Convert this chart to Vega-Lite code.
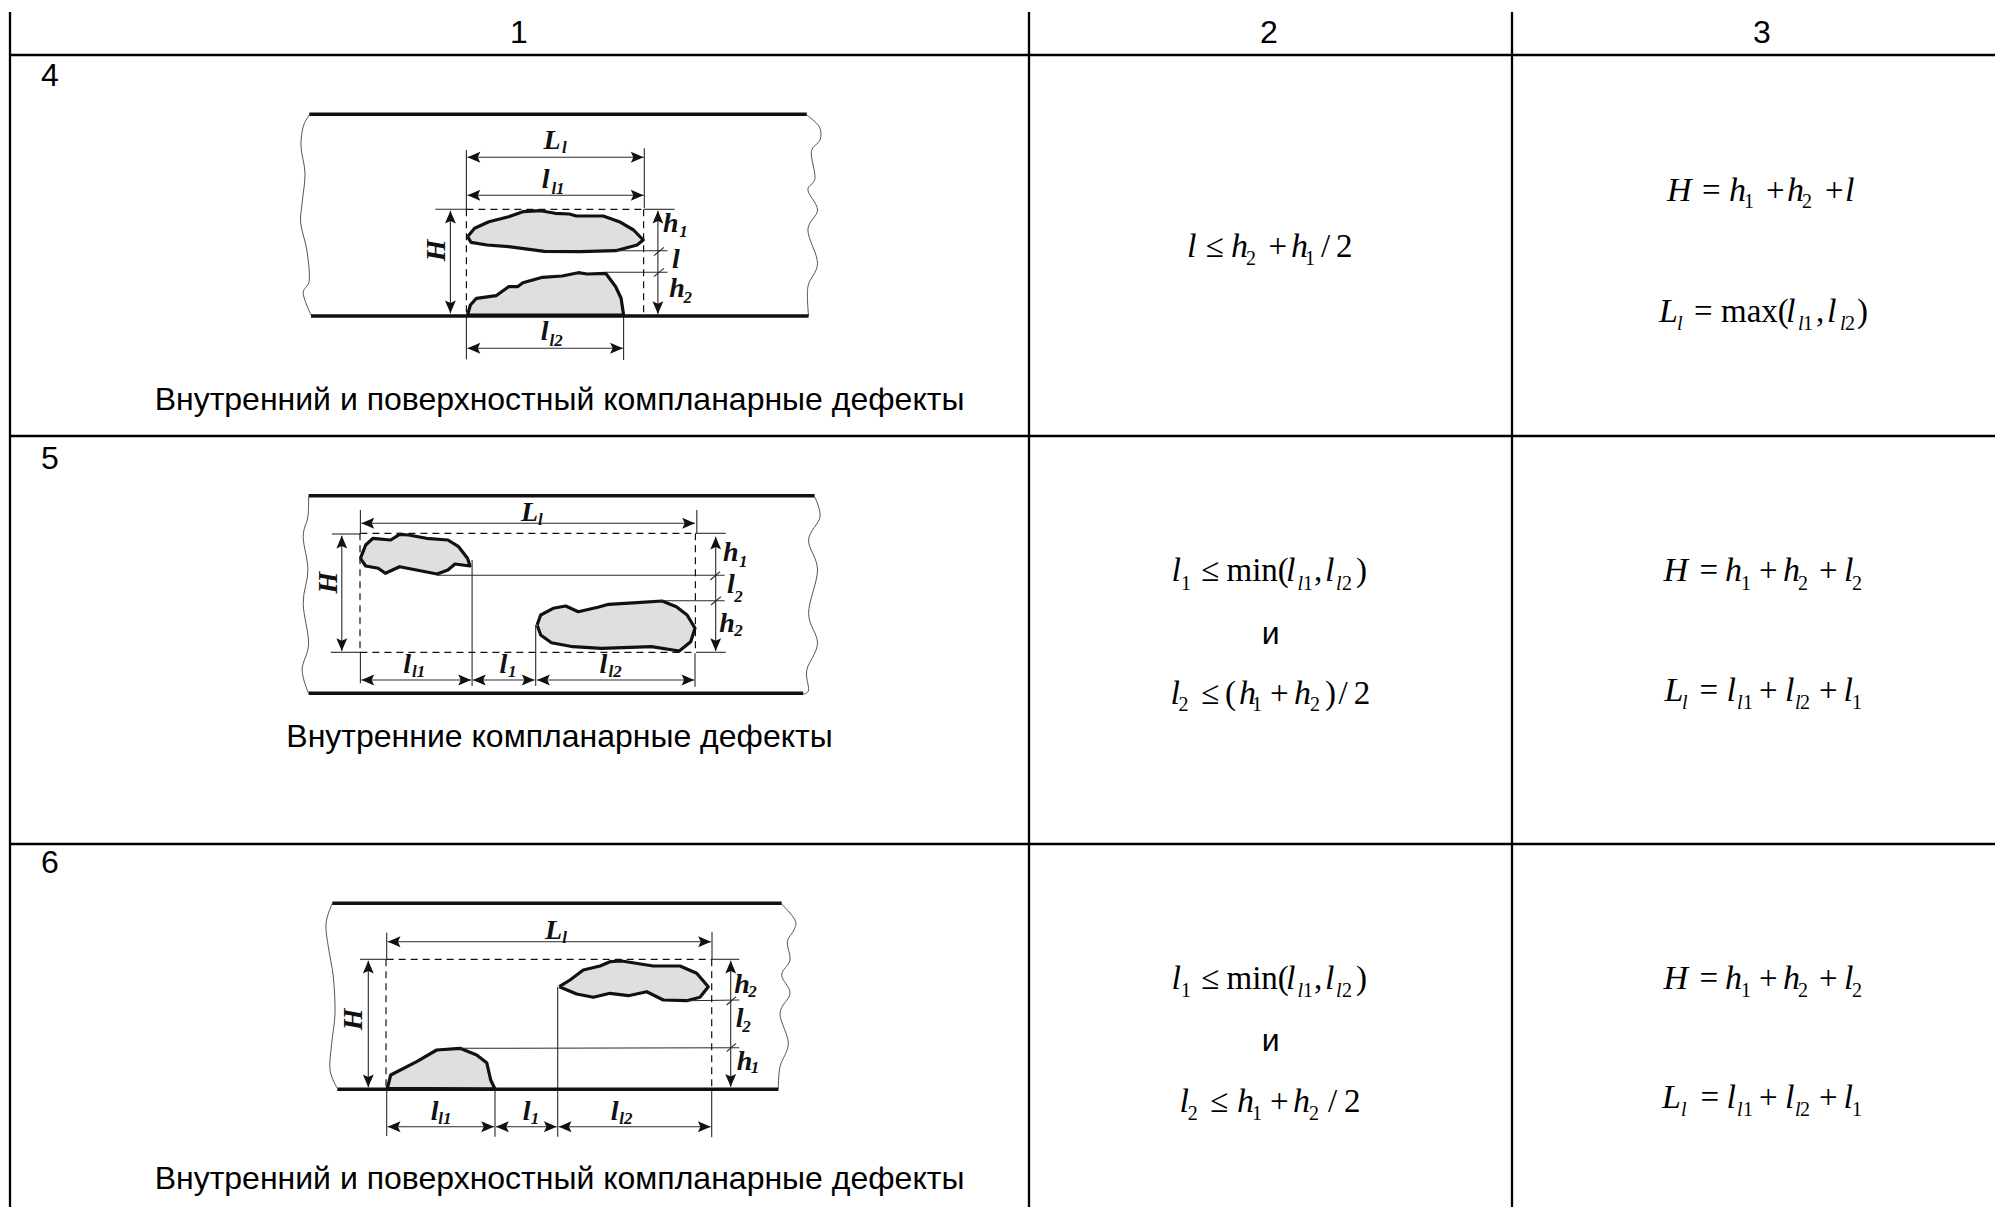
{
"$schema":"https://vega.github.io/schema/vega-lite/v6.json",
"width":1995,"height":1207,"padding":0,
"autosize":{"type":"none"},
"background":"white",
"config":{"view":{"stroke":null}},
"datasets":{
"grid":[
{"s":"h0","x":10,"y":55},{"s":"h0","x":1995,"y":55},
{"s":"h1","x":10,"y":436},{"s":"h1","x":1995,"y":436},
{"s":"h2","x":10,"y":844},{"s":"h2","x":1995,"y":844},
{"s":"v0","x":10,"y":12},{"s":"v0","x":10,"y":1207},
{"s":"v1","x":1029,"y":12},{"s":"v1","x":1029,"y":1207},
{"s":"v2","x":1512,"y":12},{"s":"v2","x":1512,"y":1207}
],
"walls":[
{"s":"a","x":309.3,"y":114.3},{"s":"a","x":806.8,"y":114.3},
{"s":"b","x":311,"y":316},{"s":"b","x":808.6,"y":316},
{"s":"c","x":308.6,"y":495.7},{"s":"c","x":814.6,"y":495.7},
{"s":"d","x":308.6,"y":693.3},{"s":"d","x":803.2,"y":693.3},
{"s":"e","x":332.3,"y":903.3},{"s":"e","x":781.7,"y":903.3},
{"s":"f","x":337.3,"y":1089.3},{"s":"f","x":778.3,"y":1089.3}
],
"wavy":[
{"s":"a","x":309.3,"y":115},{"s":"a","x":303.2,"y":126.7},{"s":"a","x":301,"y":146.7},{"s":"a","x":305,"y":173.3},{"s":"a","x":302.1,"y":203.3},{"s":"a","x":300.7,"y":223.3},{"s":"a","x":306.8,"y":250},{"s":"a","x":309.3,"y":280},{"s":"a","x":303.2,"y":293.3},{"s":"a","x":311,"y":315},
{"s":"b","x":806.8,"y":115},{"s":"b","x":819.3,"y":126.7},{"s":"b","x":820,"y":140},{"s":"b","x":811.4,"y":151.7},{"s":"b","x":815,"y":178.3},{"s":"b","x":807.9,"y":190},{"s":"b","x":817.5,"y":210},{"s":"b","x":807.9,"y":230},{"s":"b","x":817.5,"y":263.3},{"s":"b","x":807.9,"y":286.7},{"s":"b","x":808.6,"y":316},
{"s":"c","x":308.6,"y":496.7},{"s":"c","x":307.9,"y":516.7},{"s":"c","x":303.2,"y":536.7},{"s":"c","x":307.9,"y":570},{"s":"c","x":303.2,"y":603.3},{"s":"c","x":308.6,"y":643.3},{"s":"c","x":302.1,"y":670},{"s":"c","x":308.6,"y":693.3},
{"s":"d","x":814.6,"y":496.7},{"s":"d","x":820,"y":516.7},{"s":"d","x":808.6,"y":540},{"s":"d","x":817.5,"y":570},{"s":"d","x":808.6,"y":613.3},{"s":"d","x":817.5,"y":643.3},{"s":"d","x":806.8,"y":670},{"s":"d","x":808.6,"y":690},{"s":"d","x":803.2,"y":694},
{"s":"e","x":332.3,"y":903.3},{"s":"e","x":326,"y":923.3},{"s":"e","x":328.3,"y":946.7},{"s":"e","x":333.3,"y":976.7},{"s":"e","x":335,"y":1013.3},{"s":"e","x":331.7,"y":1043.3},{"s":"e","x":330,"y":1070},{"s":"e","x":337.3,"y":1088.3},
{"s":"f","x":781.7,"y":904},{"s":"f","x":795,"y":920},{"s":"f","x":794,"y":930},{"s":"f","x":787.3,"y":941.7},{"s":"f","x":790,"y":960},{"s":"f","x":781.7,"y":975},{"s":"f","x":790,"y":993.3},{"s":"f","x":780,"y":1013.3},{"s":"f","x":788.3,"y":1043.3},{"s":"f","x":780,"y":1066.7},{"s":"f","x":778.3,"y":1089.3}
],
"blobs":[
{"s":"a","x":467.5,"y":236.7},{"s":"a","x":474.6,"y":228.3},{"s":"a","x":488.9,"y":221.7},{"s":"a","x":508.6,"y":216.7},{"s":"a","x":522.9,"y":211.7},{"s":"a","x":540.7,"y":210.7},{"s":"a","x":555,"y":213.3},{"s":"a","x":569.3,"y":214},{"s":"a","x":576.4,"y":216},{"s":"a","x":603.2,"y":216},{"s":"a","x":619.3,"y":221.7},{"s":"a","x":633.6,"y":230},{"s":"a","x":643.2,"y":240},{"s":"a","x":637.1,"y":245},{"s":"a","x":615.7,"y":250.7},{"s":"a","x":580,"y":251.7},{"s":"a","x":544.3,"y":251.3},{"s":"a","x":508.6,"y":246.7},{"s":"a","x":487.1,"y":245},{"s":"a","x":471.1,"y":242.3},{"s":"a","x":467.5,"y":236.7},
{"s":"b","x":467.5,"y":315},{"s":"b","x":470.4,"y":305},{"s":"b","x":476.4,"y":298.3},{"s":"b","x":496.1,"y":295.7},{"s":"b","x":508.6,"y":286.7},{"s":"b","x":517.5,"y":286.7},{"s":"b","x":522.9,"y":282.7},{"s":"b","x":542.5,"y":277.3},{"s":"b","x":562.1,"y":276},{"s":"b","x":578.2,"y":272.7},{"s":"b","x":587.1,"y":274},{"s":"b","x":605.7,"y":273.3},{"s":"b","x":615.7,"y":286.7},{"s":"b","x":621.1,"y":298.3},{"s":"b","x":623.6,"y":315},{"s":"b","x":467.5,"y":315},
{"s":"c","x":360.4,"y":558.3},{"s":"c","x":365.7,"y":545},{"s":"c","x":372.9,"y":538.3},{"s":"c","x":390.7,"y":540},{"s":"c","x":399.6,"y":534.3},{"s":"c","x":408.6,"y":535},{"s":"c","x":426.4,"y":538.3},{"s":"c","x":447.9,"y":540},{"s":"c","x":458.6,"y":546.7},{"s":"c","x":467.5,"y":558.3},{"s":"c","x":470,"y":566},{"s":"c","x":455,"y":564},{"s":"c","x":447.9,"y":570},{"s":"c","x":437.1,"y":574},{"s":"c","x":399.6,"y":566.7},{"s":"c","x":385.4,"y":573.3},{"s":"c","x":378.2,"y":568.3},{"s":"c","x":365.7,"y":566},{"s":"c","x":360.4,"y":558.3},
{"s":"d","x":537.1,"y":625},{"s":"d","x":540.7,"y":615},{"s":"d","x":553.2,"y":608.3},{"s":"d","x":565.7,"y":606},{"s":"d","x":578.2,"y":611.7},{"s":"d","x":597.9,"y":607.3},{"s":"d","x":608.6,"y":604.3},{"s":"d","x":637.1,"y":602.7},{"s":"d","x":662.1,"y":601},{"s":"d","x":676.4,"y":606.7},{"s":"d","x":687.1,"y":615},{"s":"d","x":695,"y":628.3},{"s":"d","x":690.7,"y":641.7},{"s":"d","x":679.3,"y":651},{"s":"d","x":651.4,"y":646.7},{"s":"d","x":601.4,"y":648.3},{"s":"d","x":572.9,"y":646.7},{"s":"d","x":551.4,"y":642.7},{"s":"d","x":540.7,"y":635},{"s":"d","x":537.1,"y":625},
{"s":"e","x":559.3,"y":986.7},{"s":"e","x":570,"y":980},{"s":"e","x":583.3,"y":970},{"s":"e","x":600,"y":966},{"s":"e","x":610,"y":961.7},{"s":"e","x":621.7,"y":961},{"s":"e","x":653.3,"y":966},{"s":"e","x":680,"y":966},{"s":"e","x":696.7,"y":973.3},{"s":"e","x":708.3,"y":986.7},{"s":"e","x":700,"y":997.3},{"s":"e","x":686.7,"y":1000.7},{"s":"e","x":663.3,"y":1000},{"s":"e","x":646.7,"y":991.7},{"s":"e","x":628.3,"y":995.7},{"s":"e","x":610,"y":993.3},{"s":"e","x":593.3,"y":997.3},{"s":"e","x":576.7,"y":994},{"s":"e","x":559.3,"y":986.7},
{"s":"f","x":387.3,"y":1088.3},{"s":"f","x":390.7,"y":1075},{"s":"f","x":416.7,"y":1061.7},{"s":"f","x":436.7,"y":1050},{"s":"f","x":460,"y":1048.3},{"s":"f","x":476.7,"y":1055},{"s":"f","x":486.7,"y":1062.7},{"s":"f","x":490.7,"y":1080},{"s":"f","x":495,"y":1089},{"s":"f","x":387.3,"y":1088.3}
],
"dashed":[
{"s":"a","x":466.4,"y":209.3},{"s":"a","x":466.4,"y":315},
{"s":"b","x":643.6,"y":209.3},{"s":"b","x":643.6,"y":314},
{"s":"c","x":466.4,"y":209.3},{"s":"c","x":643.6,"y":209.3},
{"s":"d","x":360,"y":533.3},{"s":"d","x":360,"y":651.7},
{"s":"e","x":695.4,"y":533.3},{"s":"e","x":695.4,"y":652},
{"s":"f","x":360.4,"y":533.3},{"s":"f","x":696,"y":533.3},
{"s":"g","x":360.4,"y":652.3},{"s":"g","x":696,"y":652.3},
{"s":"h","x":386,"y":959.3},{"s":"h","x":386,"y":1086.7},
{"s":"i","x":711.7,"y":959.3},{"s":"i","x":711.7,"y":1089.3},
{"s":"j","x":386.7,"y":959.3},{"s":"j","x":711.7,"y":959.3}
],
"thin":[
{"s":"a1","x":466.4,"y":150},{"s":"a1","x":466.4,"y":209.3},
{"s":"a2","x":466.4,"y":316},{"s":"a2","x":466.4,"y":359.3},
{"s":"a3","x":644.3,"y":148.3},{"s":"a3","x":644.3,"y":208.3},
{"s":"a4","x":623.6,"y":316},{"s":"a4","x":623.6,"y":360},
{"s":"a5","x":435.4,"y":209.3},{"s":"a5","x":467.5,"y":209.3},
{"s":"a6","x":644.3,"y":209.3},{"s":"a6","x":674.6,"y":209.3},
{"s":"a7","x":467.5,"y":157.3},{"s":"a7","x":643.6,"y":157.3},
{"s":"a8","x":467.5,"y":195.3},{"s":"a8","x":643.6,"y":195.3},
{"s":"a9","x":467.5,"y":348.3},{"s":"a9","x":622.9,"y":348.3},
{"s":"a10","x":450.4,"y":210.7},{"s":"a10","x":450.4,"y":313.3},
{"s":"a11","x":657.9,"y":210.7},{"s":"a11","x":657.9,"y":314},
{"s":"a12","x":615.7,"y":250.7},{"s":"a12","x":667.5,"y":250.7},
{"s":"a13","x":653.9,"y":255.7},{"s":"a13","x":663.9,"y":247.3},
{"s":"a14","x":605.7,"y":272.3},{"s":"a14","x":667.5,"y":272.3},
{"s":"a15","x":653.9,"y":276.7},{"s":"a15","x":663.9,"y":268.3},
{"s":"b1","x":360.4,"y":510},{"s":"b1","x":360.4,"y":533.3},
{"s":"b2","x":360.4,"y":651.7},{"s":"b2","x":360.4,"y":683.3},
{"s":"b3","x":696.8,"y":510},{"s":"b3","x":696.8,"y":533.3},
{"s":"b4","x":695,"y":653.3},{"s":"b4","x":695,"y":686.7},
{"s":"b5","x":331.8,"y":534},{"s":"b5","x":360.4,"y":534},
{"s":"b6","x":696,"y":533.3},{"s":"b6","x":725.7,"y":533.3},
{"s":"b7","x":330.7,"y":652.3},{"s":"b7","x":360.4,"y":652.3},
{"s":"b8","x":696,"y":652.3},{"s":"b8","x":725.7,"y":652.3},
{"s":"b9","x":341.8,"y":535.7},{"s":"b9","x":341.8,"y":651},
{"s":"b10","x":715.7,"y":536.7},{"s":"b10","x":715.7,"y":651},
{"s":"b11","x":361.4,"y":523.3},{"s":"b11","x":695,"y":523.3},
{"s":"b12","x":361.4,"y":680},{"s":"b12","x":471,"y":680},
{"s":"b13","x":472.9,"y":680},{"s":"b13","x":534.6,"y":680},
{"s":"b14","x":537.1,"y":680},{"s":"b14","x":694.3,"y":680},
{"s":"b15","x":472.1,"y":560},{"s":"b15","x":472.1,"y":686},
{"s":"b16","x":535.7,"y":625},{"s":"b16","x":535.7,"y":686},
{"s":"b17","x":437.1,"y":575.3},{"s":"b17","x":724.6,"y":575.3},
{"s":"b18","x":710.4,"y":580},{"s":"b18","x":720,"y":571.7},
{"s":"b19","x":660.4,"y":600.7},{"s":"b19","x":724.6,"y":600.7},
{"s":"b20","x":711,"y":605},{"s":"b20","x":721,"y":596.7},
{"s":"c1","x":386.7,"y":932.7},{"s":"c1","x":386.7,"y":959.3},
{"s":"c2","x":386.7,"y":1089.3},{"s":"c2","x":386.7,"y":1136},
{"s":"c3","x":712,"y":931.7},{"s":"c3","x":712,"y":959.3},
{"s":"c4","x":711.7,"y":1089.3},{"s":"c4","x":711.7,"y":1137.3},
{"s":"c5","x":360,"y":959.3},{"s":"c5","x":386.7,"y":959.3},
{"s":"c6","x":712,"y":959.3},{"s":"c6","x":739.3,"y":959.3},
{"s":"c7","x":495,"y":1089.3},{"s":"c7","x":495,"y":1136.7},
{"s":"c8","x":557.7,"y":986.7},{"s":"c8","x":557.7,"y":1136.7},
{"s":"c9","x":368.3,"y":960.7},{"s":"c9","x":368.3,"y":1087.3},
{"s":"c10","x":730.7,"y":960.7},{"s":"c10","x":730.7,"y":1086.7},
{"s":"c11","x":387.7,"y":941.7},{"s":"c11","x":711,"y":941.7},
{"s":"c12","x":387.7,"y":1126.7},{"s":"c12","x":494,"y":1126.7},
{"s":"c13","x":496,"y":1126.7},{"s":"c13","x":556.7,"y":1126.7},
{"s":"c14","x":558.7,"y":1126.7},{"s":"c14","x":710.7,"y":1126.7},
{"s":"c15","x":686.7,"y":1000.7},{"s":"c15","x":739.3,"y":1000},
{"s":"c16","x":726.7,"y":1005},{"s":"c16","x":736,"y":996.7},
{"s":"c17","x":460,"y":1048.3},{"s":"c17","x":739.3,"y":1047.7},
{"s":"c18","x":726.7,"y":1051.7},{"s":"c18","x":736,"y":1043.3}
],
"arrows":[
{"x":467.5,"y":157.3,"d":"l"},{"x":643.6,"y":157.3,"d":"r"},
{"x":467.5,"y":195.3,"d":"l"},{"x":643.6,"y":195.3,"d":"r"},
{"x":467.5,"y":348.3,"d":"l"},{"x":622.9,"y":348.3,"d":"r"},
{"x":450.4,"y":210.7,"d":"u"},{"x":450.4,"y":313.3,"d":"w"},
{"x":657.9,"y":210.7,"d":"u"},{"x":657.9,"y":314,"d":"w"},
{"x":341.8,"y":535.7,"d":"u"},{"x":341.8,"y":651,"d":"w"},
{"x":715.7,"y":536.7,"d":"u"},{"x":715.7,"y":651,"d":"w"},
{"x":361.4,"y":523.3,"d":"l"},{"x":695,"y":523.3,"d":"r"},
{"x":361.4,"y":680,"d":"l"},{"x":471,"y":680,"d":"r"},
{"x":472.9,"y":680,"d":"l"},{"x":534.6,"y":680,"d":"r"},
{"x":537.1,"y":680,"d":"l"},{"x":694.3,"y":680,"d":"r"},
{"x":368.3,"y":960.7,"d":"u"},{"x":368.3,"y":1087.3,"d":"w"},
{"x":730.7,"y":960.7,"d":"u"},{"x":730.7,"y":1086.7,"d":"w"},
{"x":387.7,"y":941.7,"d":"l"},{"x":711,"y":941.7,"d":"r"},
{"x":387.7,"y":1126.7,"d":"l"},{"x":494,"y":1126.7,"d":"r"},
{"x":496,"y":1126.7,"d":"l"},{"x":556.7,"y":1126.7,"d":"r"},
{"x":558.7,"y":1126.7,"d":"l"},{"x":710.7,"y":1126.7,"d":"r"}
],
"sans":[
{"t":"1","x":519,"y":43},{"t":"2","x":1269,"y":43},{"t":"3","x":1762,"y":43},
{"t":"4","x":50,"y":86},{"t":"5","x":50,"y":469},{"t":"6","x":50,"y":873},
{"t":"Внутренний и поверхностный компланарные дефекты","x":559.5,"y":410},
{"t":"Внутренние компланарные дефекты","x":559.5,"y":747},
{"t":"Внутренний и поверхностный компланарные дефекты","x":559.5,"y":1189},
{"t":"и","x":1270.7,"y":644},{"t":"и","x":1270.7,"y":1051}
],
"mi":[
{"t":"H","x":1667,"y":198},{"t":"h","x":1729,"y":198},{"t":"h","x":1787,"y":198},{"t":"l","x":1845,"y":198},
{"t":"l","x":1187,"y":254},{"t":"h","x":1231,"y":254},{"t":"h","x":1291,"y":254},
{"t":"L","x":1659,"y":319},{"t":"l","x":1786,"y":319},{"t":"l","x":1827,"y":319},
{"t":"l","x":1171.5,"y":578},{"t":"l","x":1286,"y":578},{"t":"l","x":1325,"y":578},
{"t":"l","x":1170.5,"y":701},{"t":"h","x":1239,"y":701},{"t":"h","x":1294,"y":701},
{"t":"H","x":1663.5,"y":578},{"t":"h","x":1725,"y":578},{"t":"h","x":1783,"y":578},{"t":"l","x":1844,"y":578},
{"t":"L","x":1664.5,"y":698},{"t":"l","x":1726.5,"y":698},{"t":"l","x":1785,"y":698},{"t":"l","x":1843.4,"y":698},
{"t":"l","x":1171.5,"y":986},{"t":"l","x":1286,"y":986},{"t":"l","x":1325,"y":986},
{"t":"l","x":1179.6,"y":1109},{"t":"h","x":1237,"y":1109},{"t":"h","x":1293,"y":1109},
{"t":"H","x":1663.5,"y":986},{"t":"h","x":1725,"y":986},{"t":"h","x":1783,"y":986},{"t":"l","x":1844,"y":986},
{"t":"L","x":1662,"y":1105},{"t":"l","x":1726.5,"y":1105},{"t":"l","x":1785,"y":1105},{"t":"l","x":1843.4,"y":1105}
],
"mr":[
{"t":"=","x":1702,"y":198},{"t":"+","x":1766,"y":198},{"t":"+","x":1825,"y":198},
{"t":"≤","x":1205.5,"y":254},{"t":"+","x":1268.5,"y":254},{"t":"/","x":1321,"y":254},{"t":"2","x":1336,"y":254},
{"t":"=","x":1694,"y":319},{"t":"max(","x":1721,"y":319},{"t":",","x":1816,"y":319},{"t":")","x":1857,"y":319},
{"t":"≤","x":1201,"y":578},{"t":"min(","x":1226.5,"y":578},{"t":",","x":1314,"y":578},{"t":")","x":1356,"y":578},
{"t":"≤","x":1201,"y":701},{"t":"(","x":1225,"y":701},{"t":"+","x":1270,"y":701},{"t":")","x":1325,"y":701},{"t":"/","x":1338.6,"y":701},{"t":"2","x":1353.7,"y":701},
{"t":"=","x":1699.6,"y":578},{"t":"+","x":1759,"y":578},{"t":"+","x":1819,"y":578},
{"t":"=","x":1699.6,"y":698},{"t":"+","x":1759,"y":698},{"t":"+","x":1819,"y":698},
{"t":"≤","x":1201,"y":986},{"t":"min(","x":1226.5,"y":986},{"t":",","x":1314,"y":986},{"t":")","x":1356,"y":986},
{"t":"≤","x":1210,"y":1109},{"t":"+","x":1270,"y":1109},{"t":"/","x":1328,"y":1109},{"t":"2","x":1344,"y":1109},
{"t":"=","x":1699.6,"y":986},{"t":"+","x":1759,"y":986},{"t":"+","x":1819,"y":986},
{"t":"=","x":1700.6,"y":1105},{"t":"+","x":1759,"y":1105},{"t":"+","x":1819,"y":1105}
],
"si":[
{"t":"l","x":1677,"y":327},{"t":"l","x":1798,"y":327},{"t":"l","x":1840,"y":327},
{"t":"l","x":1297.6,"y":587},{"t":"l","x":1336,"y":587},
{"t":"l","x":1682,"y":706},{"t":"l","x":1737,"y":706},{"t":"l","x":1795,"y":706},
{"t":"l","x":1297.6,"y":994},{"t":"l","x":1336,"y":994},
{"t":"l","x":1681,"y":1113},{"t":"l","x":1737,"y":1113},{"t":"l","x":1795,"y":1113}
],
"sr":[
{"t":"1","x":1744,"y":205},{"t":"2","x":1802,"y":205},
{"t":"2","x":1246,"y":262},{"t":"1","x":1305,"y":262},
{"t":"1","x":1803,"y":327},{"t":"2","x":1845,"y":327},
{"t":"1","x":1181,"y":587},{"t":"1","x":1303,"y":587},{"t":"2","x":1342,"y":587},
{"t":"2","x":1178.6,"y":708},{"t":"1","x":1252,"y":708},{"t":"2","x":1310,"y":708},
{"t":"1","x":1741,"y":587},{"t":"2","x":1798,"y":587},{"t":"2","x":1852,"y":587},
{"t":"1","x":1743,"y":706},{"t":"2","x":1800,"y":706},{"t":"1","x":1852,"y":706},
{"t":"1","x":1181,"y":994},{"t":"1","x":1303,"y":994},{"t":"2","x":1342,"y":994},
{"t":"2","x":1187.7,"y":1117},{"t":"1","x":1252,"y":1117},{"t":"2","x":1309,"y":1117},
{"t":"1","x":1741,"y":994},{"t":"2","x":1798,"y":994},{"t":"2","x":1852,"y":994},
{"t":"1","x":1743,"y":1113},{"t":"2","x":1800,"y":1113},{"t":"1","x":1852,"y":1113}
],
"dl":[
{"t":"L","x":543.6,"y":149.3},{"t":"l","x":541.8,"y":188.3},{"t":"h","x":662.9,"y":231.7},{"t":"l","x":672,"y":268.3},{"t":"h","x":669.3,"y":296.7},{"t":"l","x":540.7,"y":340},
{"t":"L","x":521,"y":521},{"t":"h","x":722.9,"y":560.7},{"t":"l","x":727.1,"y":592.7},{"t":"h","x":719.3,"y":632.3},{"t":"l","x":403.2,"y":673.3},{"t":"l","x":499.6,"y":673.3},{"t":"l","x":599.6,"y":673.3},
{"t":"L","x":545,"y":939.3},{"t":"h","x":734.3,"y":992.7},{"t":"l","x":735.7,"y":1027.3},{"t":"h","x":736.7,"y":1070},{"t":"l","x":430.7,"y":1120},{"t":"l","x":522.7,"y":1120},{"t":"l","x":610.7,"y":1120}
],
"ds":[
{"t":"l","x":562,"y":153.3},{"t":"l1","x":551.4,"y":194},{"t":"1","x":679.3,"y":237.3},{"t":"2","x":683.6,"y":302.7},{"t":"l2","x":549.6,"y":346},
{"t":"l","x":537.9,"y":525},{"t":"1","x":738.9,"y":566.7},{"t":"2","x":734.3,"y":602.3},{"t":"2","x":734.3,"y":636},{"t":"l1","x":412.1,"y":677.3},{"t":"1","x":507.9,"y":677.3},{"t":"l2","x":608.6,"y":677.3},
{"t":"l","x":562.3,"y":943.3},{"t":"2","x":748.3,"y":997.3},{"t":"2","x":742.3,"y":1031.7},{"t":"1","x":750.7,"y":1073.3},{"t":"l1","x":438.3,"y":1124.3},{"t":"1","x":530.7,"y":1124.3},{"t":"l2","x":619.3,"y":1124.3}
],
"dh":[
{"t":"H","x":445,"y":250.3},{"t":"H","x":337.1,"y":582.7},{"t":"H","x":362.3,"y":1019.3}
]
},
"encoding":{
"x":{"field":"x","type":"quantitative","scale":{"domain":[0,1995],"nice":false,"zero":false},"axis":null},
"y":{"field":"y","type":"quantitative","scale":{"domain":[0,1207],"reverse":true,"nice":false,"zero":false},"axis":null}
},
"layer":[
{"data":{"name":"blobs"},"mark":{"type":"line","fill":"#dedfde","stroke":"#111111","strokeWidth":3.2,"strokeJoin":"round"},"encoding":{"detail":{"field":"s"},"order":{"value":null}}},
{"data":{"name":"wavy"},"mark":{"type":"line","stroke":"#555555","strokeWidth":1,"interpolate":"cardinal"},"encoding":{"detail":{"field":"s"},"order":{"value":null}}},
{"data":{"name":"thin"},"mark":{"type":"line","stroke":"#2a2a2a","strokeWidth":1.1},"encoding":{"detail":{"field":"s"},"order":{"value":null}}},
{"data":{"name":"dashed"},"mark":{"type":"line","stroke":"#111111","strokeWidth":1.2,"strokeDash":[7,5]},"encoding":{"detail":{"field":"s"},"order":{"value":null}}},
{"data":{"name":"walls"},"mark":{"type":"line","stroke":"#111111","strokeWidth":3.4},"encoding":{"detail":{"field":"s"},"order":{"value":null}}},
{"data":{"name":"grid"},"mark":{"type":"line","stroke":"#000000","strokeWidth":2.3},"encoding":{"detail":{"field":"s"},"order":{"value":null}}},
{"data":{"name":"arrows"},"mark":{"type":"point","filled":true,"fill":"#111111","stroke":null,"size":164,"opacity":1},"encoding":{"shape":{"field":"d","type":"nominal","legend":null,"scale":{"domain":["l","r","u","w"],"range":["M0,0L2,-0.85L1.6,0L2,0.85Z","M0,0L-2,-0.85L-1.6,0L-2,0.85Z","M0,0L-0.85,2L0,1.6L0.85,2Z","M0,0L-0.85,-2L0,-1.6L0.85,-2Z"]}}}},
{"data":{"name":"sans"},"mark":{"type":"text","font":"Liberation Sans","fontSize":32,"align":"center","baseline":"alphabetic","fill":"#000000"},"encoding":{"text":{"field":"t"}}},
{"data":{"name":"mi"},"mark":{"type":"text","font":"Liberation Serif","fontStyle":"italic","fontSize":34,"align":"left","baseline":"alphabetic","dy":3,"fill":"#000000"},"encoding":{"text":{"field":"t"}}},
{"data":{"name":"mr"},"mark":{"type":"text","font":"Liberation Serif","fontSize":33,"align":"left","baseline":"alphabetic","dy":3,"fill":"#000000"},"encoding":{"text":{"field":"t"}}},
{"data":{"name":"si"},"mark":{"type":"text","font":"Liberation Serif","fontStyle":"italic","fontSize":20,"align":"left","baseline":"alphabetic","dy":3,"fill":"#000000"},"encoding":{"text":{"field":"t"}}},
{"data":{"name":"sr"},"mark":{"type":"text","font":"Liberation Serif","fontSize":20,"align":"left","baseline":"alphabetic","dy":3,"fill":"#000000"},"encoding":{"text":{"field":"t"}}},
{"data":{"name":"dl"},"mark":{"type":"text","font":"Liberation Serif","fontStyle":"italic","fontWeight":"bold","fontSize":28,"align":"left","baseline":"alphabetic","fill":"#111111"},"encoding":{"text":{"field":"t"}}},
{"data":{"name":"ds"},"mark":{"type":"text","font":"Liberation Serif","fontStyle":"italic","fontWeight":"bold","fontSize":17,"align":"left","baseline":"alphabetic","fill":"#111111"},"encoding":{"text":{"field":"t"}}},
{"data":{"name":"dh"},"mark":{"type":"text","font":"Liberation Serif","fontStyle":"italic","fontWeight":"bold","fontSize":28,"align":"center","baseline":"alphabetic","angle":270,"fill":"#111111"},"encoding":{"text":{"field":"t"}}}
]
}
